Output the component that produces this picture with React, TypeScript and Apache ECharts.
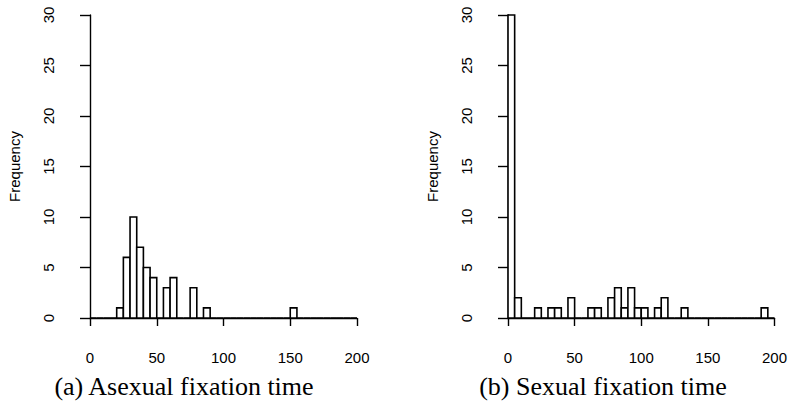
import React, { useEffect, useRef } from "react";
import * as echarts from "echarts";

const binStarts = [0, 5, 10, 15, 20, 25, 30, 35, 40, 45, 50, 55, 60, 65, 70, 75, 80, 85, 90, 95,
  100, 105, 110, 115, 120, 125, 130, 135, 140, 145, 150, 155, 160, 165, 170, 175, 180, 185, 190, 195];
const binWidth = 5;
const asexualCounts = [0, 0, 0, 0, 1, 6, 10, 7, 5, 4, 0, 3, 4, 0, 0, 3, 0, 1, 0, 0,
  0, 0, 0, 0, 0, 0, 0, 0, 0, 0, 1, 0, 0, 0, 0, 0, 0, 0, 0, 0];
const sexualCounts = [30, 2, 0, 0, 1, 0, 1, 1, 0, 2, 0, 0, 1, 1, 0, 2, 3, 1, 3, 1,
  1, 0, 1, 2, 0, 0, 1, 0, 0, 0, 0, 0, 0, 0, 0, 0, 0, 0, 1, 0];
const xTicks = { min: 0, max: 200, interval: 50 };
const yTicks = { min: 0, max: 30, interval: 5 };
const yLabel = "Frequency";
const captions = ["(a) Asexual fixation time", "(b) Sexual fixation time"];

const SANS = "'Liberation Sans', Arial, Helvetica, sans-serif";
const SERIF = "'Liberation Serif', 'Times New Roman', serif";

function renderBin(params: any, api: any) {
  const s = api.value(0);
  const c = api.value(1);
  const p0 = api.coord([s, 0]);
  const p1 = api.coord([s + binWidth, c]);
  return {
    type: "polygon",
    shape: {
      points: [
        [p0[0], p0[1]],
        [p0[0], p1[1]],
        [p1[0], p1[1]],
        [p1[0], p0[1]],
      ],
    },
    style: { fill: c > 0 ? "#fff" : "none", stroke: "#000", lineWidth: 1.6 },
  };
}

export default function App() {
  const ref = useRef<HTMLDivElement>(null);
  useEffect(() => {
    if (!ref.current) return;
    const chart = echarts.init(ref.current, null, { renderer: "svg" });
    const grids = [
      { left: 90, top: 15, width: 267, height: 303 },
      { left: 508, top: 15, width: 267, height: 303 },
    ];
    const xAxes = grids.map((_, i) => ({
      type: "value",
      gridIndex: i,
      min: xTicks.min,
      max: xTicks.max,
      interval: xTicks.interval,
      offset: 12,
      axisLine: { show: true, lineStyle: { color: "#000", width: 1.4 } },
      axisTick: { show: true, length: 8, lineStyle: { color: "#000", width: 1.4 } },
      axisLabel: { color: "#000", fontSize: 15, fontFamily: SANS, margin: 20 },
      splitLine: { show: false },
    }));
    const yAxes = grids.map((_, i) => ({
      type: "value",
      gridIndex: i,
      min: yTicks.min,
      max: yTicks.max,
      interval: yTicks.interval,
      offset: 10,
      name: yLabel,
      nameLocation: "middle",
      nameRotate: 90,
      nameGap: 58,
      nameTextStyle: { color: "#000", fontSize: 15, fontFamily: SANS },
      axisLine: { show: true, lineStyle: { color: "#000", width: 1.4 } },
      axisTick: { show: true, length: 10, lineStyle: { color: "#000", width: 1.4 } },
      axisLabel: { color: "#000", fontSize: 15, fontFamily: SANS, margin: 24, rotate: 90 },
      splitLine: { show: false },
    }));
    const series = [asexualCounts, sexualCounts].map((counts, i) => ({
      type: "custom",
      xAxisIndex: i,
      yAxisIndex: i,
      renderItem: renderBin,
      encode: { x: 0, y: 1 },
      clip: false,
      data: binStarts.map((s, k) => [s, counts[k]]),
    }));
    chart.setOption({
      animation: false,
      backgroundColor: "#fff",
      grid: grids,
      xAxis: xAxes,
      yAxis: yAxes,
      series,
      graphic: captions.map((t, i) => ({
        type: "text",
        x: i === 0 ? 184 : 603,
        y: 386,
        style: {
          text: t,
          fill: "#000",
          font: `26px ${SERIF}`,
          textAlign: "center",
          textVerticalAlign: "middle",
        },
      })),
    });
    return () => chart.dispose();
  }, []);
  return (
    <div
      ref={ref}
      style={{ position: "fixed", left: 0, top: 0, width: 790, height: 408, background: "#fff" }}
    />
  );
}
